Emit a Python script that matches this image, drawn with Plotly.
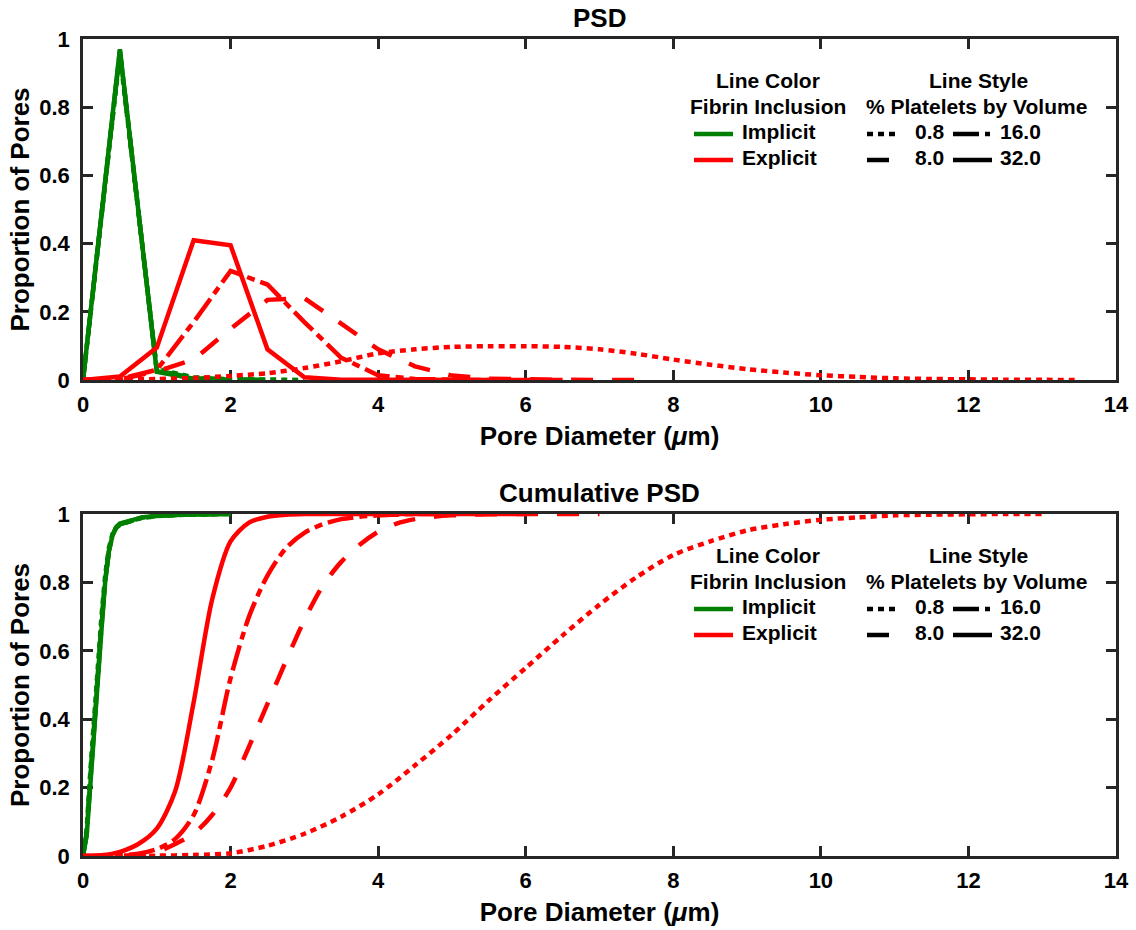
import plotly.graph_objects as go

# ---------------- data ----------------
x_tick_vals = [0, 2, 4, 6, 8, 10, 12, 14]
x_tick_text = ["0", "2", "4", "6", "8", "10", "12", "14"]
y_tick_vals = [0, 0.2, 0.4, 0.6, 0.8, 1]
y_tick_text = ["0", "0.2", "0.4", "0.6", "0.8", "1"]

# PSD, implicit fibrin (green)
psd_imp_08_x = [0, 0.5, 1.0, 1.5, 2.0, 2.5, 3.0]
psd_imp_08_y = [0, 0.955, 0.032, 0.008, 0.003, 0.001, 0.0]
psd_imp_8_x = [0, 0.5, 1.0, 1.5, 2.0, 2.5]
psd_imp_8_y = [0, 0.962, 0.028, 0.006, 0.002, 0.0]
psd_imp_16_x = [0, 0.5, 1.0, 1.5, 2.0, 2.5]
psd_imp_16_y = [0, 0.966, 0.026, 0.005, 0.001, 0.0]
psd_imp_32_x = [0, 0.5, 1.0, 1.5, 2.0]
psd_imp_32_y = [0, 0.97, 0.024, 0.004, 0.0]

# PSD, explicit fibrin (red)
psd_exp_08_x = [0, 0.5, 1.0, 1.5, 2.0, 2.5, 3.0, 3.5, 4.0, 4.5, 5.0, 5.5, 6.0, 6.5,
                7.0, 7.5, 8.0, 8.5, 9.0, 9.5, 10.0, 10.5, 11.0, 11.5, 12.0, 12.5, 13.0, 13.5]
psd_exp_08_y = [0, 0.001, 0.003, 0.006, 0.012, 0.02, 0.035, 0.055, 0.078, 0.09, 0.097, 0.099, 0.099, 0.097,
                0.09, 0.077, 0.06, 0.045, 0.032, 0.022, 0.014, 0.009, 0.005, 0.003, 0.002, 0.001, 0.0005, 0]
psd_exp_8_x = [0, 0.5, 1.0, 1.5, 2.0, 2.5, 3.0, 3.5, 4.0, 4.5, 5.0, 5.5, 6.0, 6.5, 7.0, 7.5]
psd_exp_8_y = [0, 0.002, 0.025, 0.06, 0.15, 0.235, 0.24, 0.165, 0.09, 0.04, 0.013, 0.004, 0.001, 0.0005, 0.0002, 0]
psd_exp_16_x = [0, 0.5, 1.0, 1.5, 2.0, 2.5, 3.0, 3.5, 4.0, 4.5, 5.0, 5.5]
psd_exp_16_y = [0, 0.003, 0.03, 0.17, 0.32, 0.28, 0.17, 0.065, 0.014, 0.003, 0.001, 0]
psd_exp_32_x = [0, 0.5, 1.0, 1.5, 2.0, 2.5, 3.0, 3.5, 4.0, 4.5, 5.0, 5.5, 6.0, 6.5]
psd_exp_32_y = [0, 0.01, 0.095, 0.41, 0.395, 0.09, 0.008, 0.001, 0.0005, 0.0002, 0.0001, 0, 0, 0]

# Cumulative PSD, implicit fibrin (green)
cum_imp_x = [0, 0.05, 0.1, 0.15, 0.2, 0.25, 0.3, 0.35, 0.4, 0.45, 0.5, 0.6, 0.7, 0.8, 1.0, 1.25, 1.5, 2.0]
cum_imp_08_y = [0, 0.08, 0.25, 0.41, 0.56, 0.70, 0.82, 0.90, 0.942, 0.96, 0.968, 0.976, 0.983, 0.988, 0.994, 0.997, 0.999, 1.0]
cum_imp_8_y = [0, 0.07, 0.23, 0.39, 0.54, 0.68, 0.81, 0.89, 0.940, 0.96, 0.970, 0.977, 0.984, 0.989, 0.995, 0.998, 0.999, 1.0]
cum_imp_16_y = [0, 0.065, 0.22, 0.38, 0.53, 0.67, 0.805, 0.89, 0.938, 0.961, 0.971, 0.978, 0.985, 0.990, 0.995, 0.998, 0.999, 1.0]
cum_imp_32_y = [0, 0.06, 0.21, 0.37, 0.515, 0.66, 0.80, 0.89, 0.937, 0.962, 0.972, 0.979, 0.985, 0.990, 0.995, 0.998, 0.999, 1.0]

# Cumulative PSD, explicit fibrin (red)
cum_exp_08_x = [0, 0.5, 1.0, 1.5, 2.0, 2.5, 3.0, 3.5, 4.0, 4.5, 5.0, 5.5, 6.0, 6.5,
                7.0, 7.5, 8.0, 8.5, 9.0, 9.5, 10.0, 10.5, 11.0, 11.5, 12.0, 12.5, 13.0]
cum_exp_08_y = [0, 0, 0.001, 0.003, 0.008, 0.03, 0.065, 0.115, 0.18, 0.265, 0.355, 0.455, 0.55, 0.645,
                0.735, 0.815, 0.88, 0.92, 0.952, 0.97, 0.983, 0.99, 0.996, 0.998, 0.999, 1.0, 1.0]
cum_exp_8_x = [0, 0.25, 0.5, 0.75, 1.0, 1.25, 1.5, 1.75, 2.0, 2.25, 2.5, 2.75, 3.0, 3.25, 3.5,
               3.75, 4.0, 4.25, 4.5, 4.75, 5.0, 5.25, 5.5, 5.75, 6.0, 6.25, 6.5, 6.75, 7.0]
cum_exp_8_y = [0, 0, 0.001, 0.004, 0.012, 0.035, 0.065, 0.12, 0.2, 0.32, 0.445, 0.57, 0.69, 0.79, 0.86,
               0.91, 0.948, 0.972, 0.985, 0.992, 0.996, 0.998, 0.999, 1.0, 1.0, 1.0, 1.0, 1.0, 1.0]
cum_exp_16_x = [0, 0.25, 0.5, 0.75, 1.0, 1.25, 1.5, 1.75, 2.0, 2.25, 2.5, 2.75, 3.0, 3.25, 3.5,
                3.75, 4.0, 4.25, 4.5, 4.75, 5.0]
cum_exp_16_y = [0, 0.0, 0.002, 0.007, 0.02, 0.05, 0.12, 0.28, 0.52, 0.70, 0.82, 0.90, 0.945, 0.97, 0.985,
                0.992, 0.996, 0.998, 1.0, 1.0, 1.0]
cum_exp_32_x = [0, 0.25, 0.5, 0.75, 1.0, 1.25, 1.5, 1.75, 2.0, 2.25, 2.5, 2.75, 3.0, 3.25, 3.5,
                3.75, 4.0, 4.25, 4.5, 4.75, 5.0, 5.25, 5.5, 5.75, 6.0]
cum_exp_32_y = [0, 0.002, 0.012, 0.035, 0.08, 0.19, 0.45, 0.75, 0.92, 0.975, 0.992, 0.998, 1.0, 1.0, 1.0,
                1.0, 1.0, 1.0, 1.0, 1.0, 1.0, 1.0, 1.0, 1.0, 1.0]

panel_titles = ["PSD", "Cumulative PSD"]
x_title = "Pore Diameter (<i>μ</i>m)"
y_title = "Proportion of Pores"
color_title = ["Line Color", "Fibrin Inclusion"]
style_title = ["Line Style", "% Platelets by Volume"]
fibrin_labels = ["Implicit", "Explicit"]
platelet_labels = ["0.8", "8.0", "16.0", "32.0"]

# ---------------- styles ----------------
GREEN = "#008000"
RED = "#ff0000"
AX = "#262626"
FONT = "Liberation Sans, Arial, Helvetica, sans-serif"
LW = 4.5
DASH = {"0.8": "6px,5px", "8.0": "22px,19px", "16.0": "26px,6px,8px,6px", "32.0": "solid"}

fig = go.Figure()

psd_series = [
    (psd_imp_08_x, psd_imp_08_y, GREEN, "0.8", "linear"),
    (psd_imp_8_x, psd_imp_8_y, GREEN, "8.0", "linear"),
    (psd_imp_16_x, psd_imp_16_y, GREEN, "16.0", "linear"),
    (psd_imp_32_x, psd_imp_32_y, GREEN, "32.0", "linear"),
    (psd_exp_08_x, psd_exp_08_y, RED, "0.8", "spline"),
    (psd_exp_8_x, psd_exp_8_y, RED, "8.0", "linear"),
    (psd_exp_16_x, psd_exp_16_y, RED, "16.0", "linear"),
    (psd_exp_32_x, psd_exp_32_y, RED, "32.0", "linear"),
]
cum_series = [
    (cum_imp_x, cum_imp_08_y, GREEN, "0.8", "linear"),
    (cum_imp_x, cum_imp_8_y, GREEN, "8.0", "linear"),
    (cum_imp_x, cum_imp_16_y, GREEN, "16.0", "linear"),
    (cum_imp_x, cum_imp_32_y, GREEN, "32.0", "linear"),
    (cum_exp_08_x, cum_exp_08_y, RED, "0.8", "spline"),
    (cum_exp_8_x, cum_exp_8_y, RED, "8.0", "spline"),
    (cum_exp_16_x, cum_exp_16_y, RED, "16.0", "spline"),
    (cum_exp_32_x, cum_exp_32_y, RED, "32.0", "spline"),
]

for series, xa, ya in [(psd_series, "x", "y"), (cum_series, "x2", "y2")]:
    for xs, ys, col, key, shape in series:
        fig.add_trace(go.Scatter(
            x=xs, y=ys, mode="lines", xaxis=xa, yaxis=ya, showlegend=False,
            line=dict(color=col, width=LW, dash=DASH[key], shape=shape,
                      smoothing=0.8 if shape == "spline" else None),
            hoverinfo="skip"))

tickfont = dict(family=FONT, size=22, color="black", weight="bold")
titlefont = dict(family=FONT, size=26, color="black", weight="bold")
legend_font = dict(family=FONT, size=21, color="black", weight="bold")

def xaxis_cfg(anchor):
    return dict(anchor=anchor, domain=[0, 1], range=[0, 14], tickvals=x_tick_vals, ticktext=x_tick_text,
                ticks="inside", ticklen=10, tickwidth=2.5, tickcolor=AX, showline=True, linecolor=AX,
                linewidth=2.5, mirror="ticks", showgrid=False, zeroline=False, tickfont=tickfont,
                ticklabelstandoff=3, layer="below traces", automargin=False,
                title=dict(text=x_title, font=titlefont, standoff=11))

def yaxis_cfg(anchor, dom):
    return dict(anchor=anchor, domain=dom, range=[0, 1], tickvals=y_tick_vals, ticktext=y_tick_text,
                ticks="inside", ticklen=10, tickwidth=2.5, tickcolor=AX, showline=True, linecolor=AX,
                linewidth=2.5, mirror="ticks", showgrid=False, zeroline=False, tickfont=tickfont,
                ticklabelstandoff=6, layer="below traces", automargin=False,
                title=dict(text=y_title, font=titlefont, standoff=3))

H = 930
top_px, bot_px = 39, 856
plot_h = bot_px - top_px
dom_top = [(bot_px - 380) / plot_h, 1.0]
dom_bot = [0.0, (bot_px - 514) / plot_h]

fig.update_layout(
    width=1136, height=H,
    margin=dict(l=83, r=20, t=top_px, b=H - bot_px, autoexpand=False),
    paper_bgcolor="white", plot_bgcolor="white",
    font=dict(family=FONT, color="black", weight="bold"),
    xaxis=xaxis_cfg("y"), yaxis=yaxis_cfg("x", dom_top),
    xaxis2=xaxis_cfg("y2"), yaxis2=yaxis_cfg("x2", dom_bot),
)

# ---- panel titles and the two-part legend (drawn per panel, in axis-domain coordinates) ----
X0, XW = 83, 1033
def xf(px):
    return (px - X0) / XW

annotations = []
shapes = []
for i, (xr, yr, ph) in enumerate([("x domain", "y domain", 341), ("x2 domain", "y2 domain", 342)]):
    def yf(dy):
        return 1 - dy / ph
    annotations.append(dict(text=panel_titles[i], xref=xr, yref=yr, x=0.5, y=yf(-21), showarrow=False,
                            xanchor="center", yanchor="middle", font=titlefont))
    annotations.append(dict(text=color_title[0], xref=xr, yref=yr, x=xf(767.5), y=yf(41), showarrow=False,
                            xanchor="center", yanchor="middle", font=legend_font))
    annotations.append(dict(text=color_title[1], xref=xr, yref=yr, x=xf(768), y=yf(67), showarrow=False,
                            xanchor="center", yanchor="middle", font=legend_font))
    annotations.append(dict(text=style_title[0], xref=xr, yref=yr, x=xf(978), y=yf(41), showarrow=False,
                            xanchor="center", yanchor="middle", font=legend_font))
    annotations.append(dict(text=style_title[1], xref=xr, yref=yr, x=xf(976), y=yf(67), showarrow=False,
                            xanchor="center", yanchor="middle", font=legend_font))
    for j, (lab, col) in enumerate(zip(fibrin_labels, [GREEN, RED])):
        dy_line = 95 + 26 * j
        shapes.append(dict(type="line", xref=xr, yref=yr, x0=xf(694), x1=xf(733), y0=yf(dy_line), y1=yf(dy_line),
                           line=dict(color=col, width=LW)))
        annotations.append(dict(text=lab, xref=xr, yref=yr, x=xf(740), y=yf(dy_line - 2.5), showarrow=False,
                                xanchor="left", yanchor="middle", font=legend_font))
    layout_pos = {"0.8": (867, 900, 913, 0), "16.0": (953, 990, 998, 0),
                  "8.0": (867, 900, 913, 1), "32.0": (953, 992, 998, 1)}
    for key in platelet_labels:
        lx0, lx1, tx, row = layout_pos[key]
        dy_line = 95 + 26 * row
        shapes.append(dict(type="line", xref=xr, yref=yr, x0=xf(lx0), x1=xf(lx1), y0=yf(dy_line), y1=yf(dy_line),
                           line=dict(color="black", width=LW, dash=DASH[key])))
        annotations.append(dict(text=key, xref=xr, yref=yr, x=xf(tx), y=yf(dy_line - 2.5), showarrow=False,
                                xanchor="left", yanchor="middle", font=legend_font))

fig.update_layout(annotations=annotations, shapes=shapes)
fig.write_html("out.html")
